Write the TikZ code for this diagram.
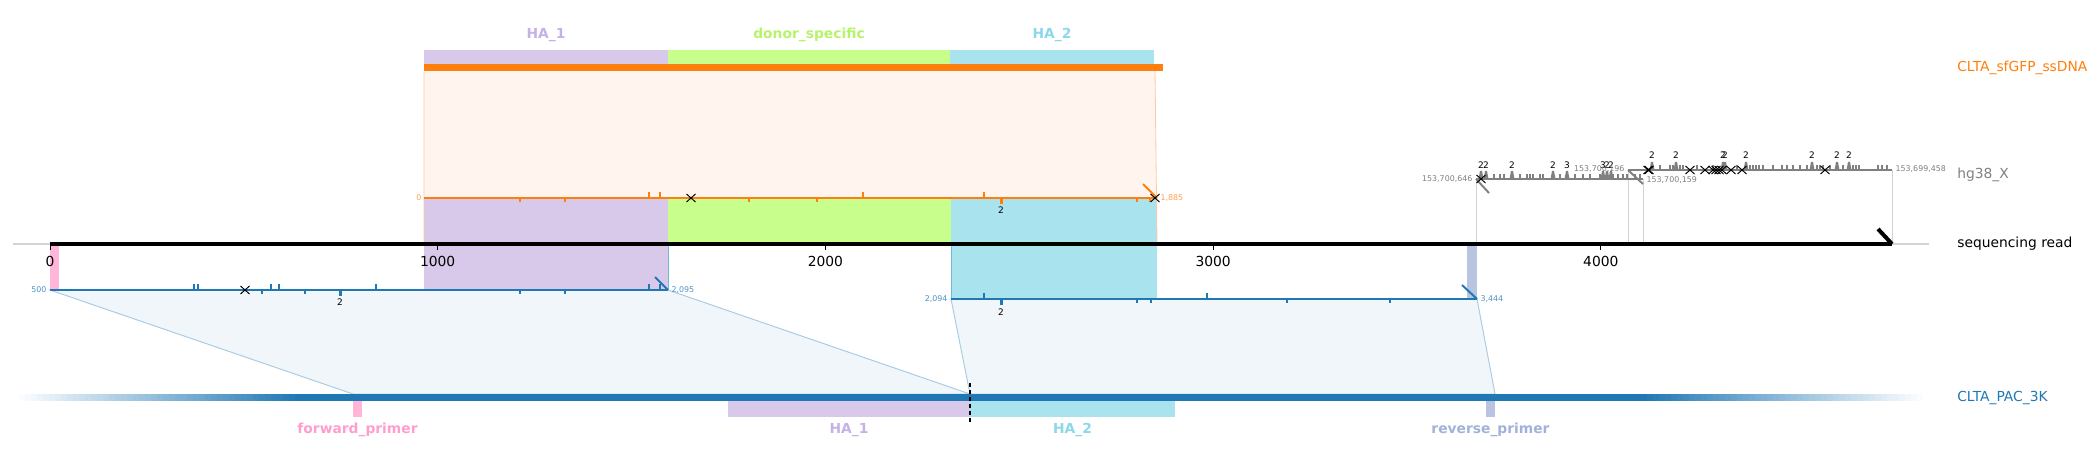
\documentclass[tikz,border=0pt]{standalone}
\usepackage{fontspec}
\setmainfont{DejaVu Sans}
\usetikzlibrary{positioning,calc}
\definecolor{ssorange}{HTML}{FF7F0E}
\definecolor{ssfill}{HTML}{FFF5EE}
\definecolor{ssline}{HTML}{FFC9A3}
\definecolor{pacblue}{HTML}{1F77B4}
\definecolor{pacfill}{HTML}{F1F6FA}
\definecolor{pacline}{HTML}{A9CBE4}
\definecolor{hggray}{HTML}{808080}
\definecolor{guide}{HTML}{D3D3D3}
\definecolor{haone}{HTML}{D8C8EA}
\definecolor{haonetxt}{HTML}{C5B1E5}
\definecolor{donor}{HTML}{C8FF8C}
\definecolor{donortxt}{HTML}{B5F46A}
\definecolor{hatwo}{HTML}{A9E4EE}
\definecolor{hatwotxt}{HTML}{8BD8E9}
\definecolor{fwd}{HTML}{FFB6D9}
\definecolor{fwdtxt}{HTML}{FF9DCF}
\definecolor{rev}{HTML}{B9C4E1}
\definecolor{revtxt}{HTML}{A1B1D9}

\begin{document}
\begin{tikzpicture}[x=0.0254cm,y=-0.0254cm,
  trk/.style={anchor=west,inner sep=0pt,font=\fontsize{10}{12}\selectfont},
  num/.style={inner sep=1pt,font=\fontsize{5.7}{7}\selectfont},
  cnt/.style={inner sep=0pt,font=\fontsize{6.5}{7}\selectfont},
  flab/.style={inner sep=0pt,font=\bfseries\fontsize{10}{12}\selectfont},
  mis/.style={black,line width=0.7pt},
  aln/.style={line width=1.4pt},
  tck/.style={line width=1pt}]
\useasboundingbox (0,0) rectangle (2100,467);

\draw[guide,line width=1pt] (13,244) -- (1929,244);

\fill[ssfill] (424,71) -- (1155,71) -- (1157,244) -- (424,244) -- cycle;
\foreach \a/\b/\c in {424/668/haone,668/951/donor,951/1157/hatwo}
  \fill[\c] (\a,198) rectangle (\b,244);
\draw[ssline,line width=0.6pt] (424,71) -- (424,244) (1155,71) -- (1157,244);

\filldraw[fill=pacfill,draw=pacline,line width=0.7pt] (50,290) -- (668,290) -- (970,394) -- (353,394) -- cycle;
\filldraw[fill=pacfill,draw=pacline,line width=0.7pt] (951,299) -- (1477,299) -- (1495,394) -- (970,394) -- cycle;
\foreach \a/\b/\y/\c in {50/59/290/fwd,424/668/290/haone,951/1157/299/hatwo,1467/1477/299/rev}
  \fill[\c] (\a,244) rectangle (\b,\y);
\draw[hatwo!60!pacblue,line width=0.5pt] (668,244) -- (668,290) (951,244) -- (951,299);

\foreach \a/\b/\c/\d/\t in {424/668/haone/haonetxt/HA\_1,668/950/donor/donortxt/donor\_specific,950/1154/hatwo/hatwotxt/HA\_2} {
  \fill[\c] (\a,50) rectangle (\b,64);
  \node[flab,text=\d] (top\c) at ({(\a+\b)/2},35) {\t};
}
\fill[ssorange] (424,64) rectangle (1163,71);

\foreach \x/\y in {1476/179,1628/170,1643/179,1892/170}
  \draw[guide,line width=0.7pt] (\x,\y) -- (\x,244);

\draw[line width=2.9pt] (50,244) -- (1892,244);
\draw[line width=2.9pt] (1878,229) -- (1892,244);
\foreach \v/\t in {0/0,1/1000,2/2000,3/3000,4/4000} {
  \draw[line width=0.6pt] (50+387.7*\v,245) -- (50+387.7*\v,250);
  \node[font=\fontsize{10}{12}\selectfont,inner sep=0pt] (tk\v) at (50+387.7*\v,261) {\t};
}

\draw[ssorange,aln] (424,198) -- (1157,198);
\foreach \x in {649,660,863,984} \draw[ssorange,tck] (\x,198) -- (\x,192);
\foreach \x in {520,565,749,817,1137,1150} \draw[ssorange,tck] (\x,198) -- (\x,202);
\fill[ssorange] (999.5,198) rectangle (1002.5,204);
\node[cnt] (dcnt) at (1001,210) {2};
\draw[ssorange,aln] (1143,184) -- (1157,198);
\foreach \x in {691,1155} \draw[mis] (\x-4.5,194) -- (\x+4.5,202) (\x-4.5,202) -- (\x+4.5,194);
\node[num,anchor=east,text=ssorange!75] (dbeg) at (423,198) {0};
\node[num,anchor=west,text=ssorange!75] (dend) at (1159,198) {1,885};

\draw[pacblue,aln] (50,290) -- (668,290);
\foreach \x in {194,198,271,279,376,649,660} \draw[pacblue,tck] (\x,290) -- (\x,284);
\foreach \x in {262,305,520,565} \draw[pacblue,tck] (\x,290) -- (\x,294);
\fill[pacblue] (338.5,290) rectangle (341.5,296);
\node[cnt] (acnt) at (340,302) {2};
\draw[pacblue,aln] (655,277) -- (668,290);
\draw[mis] (240.5,286) -- (249.5,294) (240.5,294) -- (249.5,286);
\node[num,anchor=east,text=pacblue!80] (abeg) at (48,290) {500};
\node[num,anchor=west,text=pacblue!80] (aend) at (670,290) {2,095};

\draw[pacblue,aln] (951,299) -- (1477,299);
\foreach \x in {984,1207} \draw[pacblue,tck] (\x,299) -- (\x,293);
\foreach \x in {1137,1151,1287,1390} \draw[pacblue,tck] (\x,299) -- (\x,303);
\fill[pacblue] (999.5,299) rectangle (1002.5,305);
\node[cnt] (bcnt) at (1001,312) {2};
\draw[pacblue,aln] (1462,285) -- (1477,299);
\node[num,anchor=east,text=pacblue!80] (bbeg) at (949,299) {2,094};
\node[num,anchor=west,text=pacblue!80] (bend) at (1479,299) {3,444};

\foreach \i [evaluate=\i as \p using {int(100*\i/47)}] in {0,...,47} {
  \fill[pacblue!\p!white] (13+6*\i,394) rectangle (19.6+6*\i,401);
  \fill[pacblue!\p!white] (1929-6*\i,394) rectangle (1922.4-6*\i,401);
}
\fill[pacblue] (300,394) rectangle (1641,401);
\foreach \a/\b/\c/\d/\t in {353/362/fwd/fwdtxt/forward\_primer,728/970/haone/haonetxt/HA\_1,970/1175/hatwo/hatwotxt/HA\_2,1486/1495/rev/revtxt/reverse\_primer} {
  \fill[\c] (\a,401) rectangle (\b,417);
  \node[flab,text=\d] (bot\c) at ({(\a+\b)/2},430) {\t};
}
\draw[dashed,line width=0.8pt,dash pattern=on 3pt off 2pt] (970,383) -- (970,422);

\draw[hggray,aln] (1476,179) -- (1643,179);
\foreach \x in {1494,1500,1504,1520,1527,1530,1533,1540,1543,1560,1575,1583,1590,1600,1613,1618,1623,1627,1635,1640}
  \fill[hggray] (\x-1,179) rectangle (\x+1,174.5);
\foreach \x/\n in {1481/2,1486/2,1512/2,1553/2,1567/3,1603/3,1607/2,1611/2} {
  \fill[hggray] (\x-2.5,179) -- (\x-1,171) -- (\x+1,171) -- (\x+2.5,179) -- cycle;
  \node[cnt] (ha\x) at (\x,165) {\n};
}
\draw[hggray,aln] (1476,179) -- (1489,193);
\draw[mis] (1476.5,175) -- (1485.5,183) (1476.5,183) -- (1485.5,175);
\node[num,anchor=east,text=hggray] (habeg) at (1474,179) {153,700,646};
\node[num,anchor=west,text=hggray] (haend) at (1645,180) {153,700,159};

\draw[hggray,aln] (1628,170) -- (1892,170);
\foreach \x in {1660,1670,1673,1680,1683,1697,1713,1737,1750,1753,1756,1759,1763,1773,1782,1787,1793,1800,1807,1817,1820,1823,1830,1843,1853,1856,1859,1878,1882,1887}
  \fill[hggray] (\x-1,170) rectangle (\x+1,165.5);
\foreach \x/\n in {1652/2,1676/2,1723/2,1725/2,1746/2,1812/2,1837/2,1849/2} {
  \fill[hggray] (\x-2.5,170) -- (\x-1,162) -- (\x+1,162) -- (\x+2.5,170) -- cycle;
  \node[cnt] (hb\x) at (\x,155) {\n};
}
\draw[hggray,aln] (1628,170) -- (1643,184);
\foreach \x in {1648,1649,1690,1705,1713,1716,1719,1722,1731,1742,1825}
  \draw[mis] (\x-4.5,166) -- (\x+4.5,174) (\x-4.5,174) -- (\x+4.5,166);
\node[num,anchor=east,text=hggray] (hbbeg) at (1626,169) {153,700,196};
\node[num,anchor=west,text=hggray] (hbend) at (1894,169) {153,699,458};

\node[trk,text=ssorange] (lbdonor) at (1957,68) {CLTA\_sfGFP\_ssDNA};
\node[trk,text=hggray] (lbhg) at (1957,175) {hg38\_X};
\node[trk] (lbread) at (1957,244) {sequencing read};
\node[trk,text=pacblue] (lbpac) at (1957,398) {CLTA\_PAC\_3K};
\end{tikzpicture}
\end{document}
